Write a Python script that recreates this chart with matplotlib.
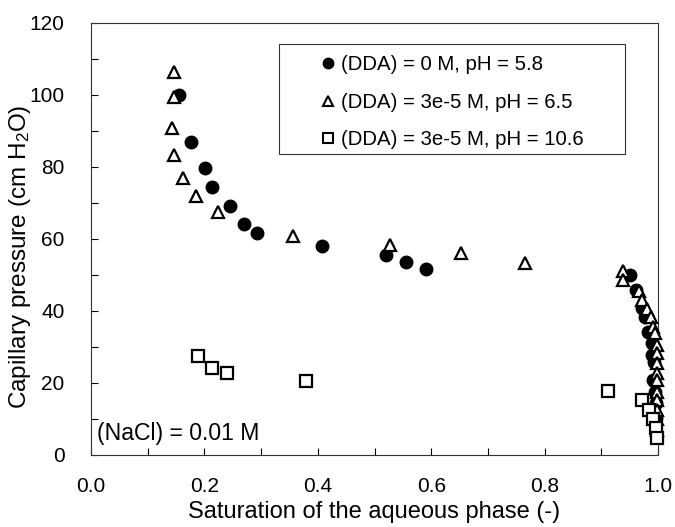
import matplotlib
matplotlib.use("Agg")
import matplotlib.pyplot as plt
from matplotlib.patches import Rectangle
from matplotlib.lines import Line2D

plt.rcParams['font.family'] = ['Liberation Sans', 'DejaVu Sans']
plt.rcParams['mathtext.fontset'] = 'custom'
plt.rcParams['mathtext.rm'] = 'Liberation Sans'
plt.rcParams['mathtext.default'] = 'regular'

# Series: (DDA) = 0 M, pH = 5.8
sat_dda0 = [0.156, 0.177, 0.201, 0.213, 0.245, 0.269, 0.293, 0.407, 0.521, 0.556, 0.591,
            0.951, 0.962, 0.971, 0.977, 0.983, 0.989, 0.989, 0.993, 0.992, 0.995, 0.997, 0.997]
pc_dda0 = [100.0, 87.0, 79.8, 74.4, 69.3, 64.3, 61.8, 58.1, 55.6, 53.5, 51.7,
           50.0, 45.8, 40.8, 38.3, 34.3, 31.0, 27.8, 25.9, 20.8, 17.6, 14.4, 10.2]

# Series: (DDA) = 3e-5 M, pH = 6.5
sat_dda_ph65 = [0.147, 0.147, 0.143, 0.147, 0.163, 0.186, 0.2245, 0.357, 0.527, 0.652, 0.765,
                0.939, 0.939, 0.967, 0.971, 0.981, 0.987, 0.992, 0.995, 0.998, 0.998,
                0.999, 0.999, 0.999, 0.999, 0.999, 0.999, 0.999, 0.999]
pc_dda_ph65 = [106.5, 99.4, 90.7, 83.3, 76.9, 71.9, 67.6, 60.9, 58.3, 56.0, 53.2,
               51.2, 48.6, 45.6, 43.1, 40.5, 38.3, 35.6, 33.8, 30.6, 28.3,
               25.5, 22.7, 20.8, 17.6, 15.3, 12.5, 10.0, 7.0]

# Series: (DDA) = 3e-5 M, pH = 10.6
sat_dda_ph106 = [0.189, 0.213, 0.240, 0.380, 0.911, 0.971, 0.985, 0.992, 0.997, 0.999]
pc_dda_ph106 = [27.5, 24.1, 22.9, 20.6, 17.8, 15.3, 12.5, 9.9, 7.4, 4.6]

labels = ['(DDA) = 0 M, pH = 5.8', '(DDA) = 3e-5 M, pH = 6.5', '(DDA) = 3e-5 M, pH = 10.6']
xticks = [0.0, 0.2, 0.4, 0.6, 0.8, 1.0]
xticklabels = ['0.0', '0.2', '0.4', '0.6', '0.8', '1.0']
yticks = [0, 20, 40, 60, 80, 100, 120]

fig = plt.figure(figsize=(6.75, 5.27), dpi=100)
ax = fig.add_axes([91/675, 1 - 455/527, 567/675, 432/527])

ax.plot(sat_dda0, pc_dda0, linestyle='none', marker='o', ms=9, mfc='black', mec='black',
        clip_on=False, zorder=3)
ax.plot(sat_dda_ph65, pc_dda_ph65, linestyle='none', marker='^', ms=8.5, mfc='white', mec='black',
        mew=1.6, clip_on=False, zorder=4)
ax.plot(sat_dda_ph106, pc_dda_ph106, linestyle='none', marker='s', ms=8, mfc='white', mec='black',
        mew=1.6, clip_on=False, zorder=5)

ax.set_xlim(0, 1.0)
ax.set_ylim(0, 120)
ax.set_xticks(xticks)
ax.set_xticklabels(xticklabels)
ax.set_yticks(yticks)
ax.set_xticks([0.1, 0.3, 0.5, 0.7, 0.9], minor=True)
ax.set_yticks([10, 30, 50, 70, 90, 110], minor=True)
ax.tick_params(which='both', direction='in', length=5, width=0.8, top=False, right=False,
               labelsize=15)
ax.tick_params(axis='x', which='major', pad=16)
ax.tick_params(axis='y', which='major', pad=19)
for s in ax.spines.values():
    s.set_linewidth(0.8)
    s.set_color('#333333')

ax.set_xlabel('Saturation of the aqueous phase (-)', fontsize=17)
ax.set_ylabel('Capillary pressure (cm H$_2$O)', fontsize=17.5)
ax.xaxis.set_label_coords(0.5, -0.106)
ax.yaxis.set_label_coords(-0.103, 0.46)

ax.text(0.011, 6, '(NaCl) = 0.01 M', fontsize=16.6, ha='left', va='center')

# legend box
x0 = (279 - 91) / 567
x1 = (625 - 91) / 567
y1 = 1 - (44 - 23) / 432
y0 = 1 - (154 - 23) / 432
ax.add_patch(Rectangle((x0, y0), x1 - x0, y1 - y0, transform=ax.transAxes, fill=True,
                       facecolor='white', edgecolor='#333333', lw=0.8, zorder=6))
handles = [
    Line2D([], [], linestyle='none', marker='o', ms=7.5, mfc='black', mec='black'),
    Line2D([], [], linestyle='none', marker='^', ms=7, mfc='white', mec='black', mew=1.5),
    Line2D([], [], linestyle='none', marker='s', ms=6.5, mfc='white', mec='black', mew=1.5),
]
leg = ax.legend(handles, labels, loc='upper left', bbox_to_anchor=(x0 + 0.065, y1 - 0.012),
                frameon=False, fontsize=14.7, handlelength=0.6, handletextpad=0.35,
                labelspacing=0.9, borderpad=0.3, borderaxespad=0)
leg.set_zorder(7)

fig.savefig('out.png', dpi=100)
